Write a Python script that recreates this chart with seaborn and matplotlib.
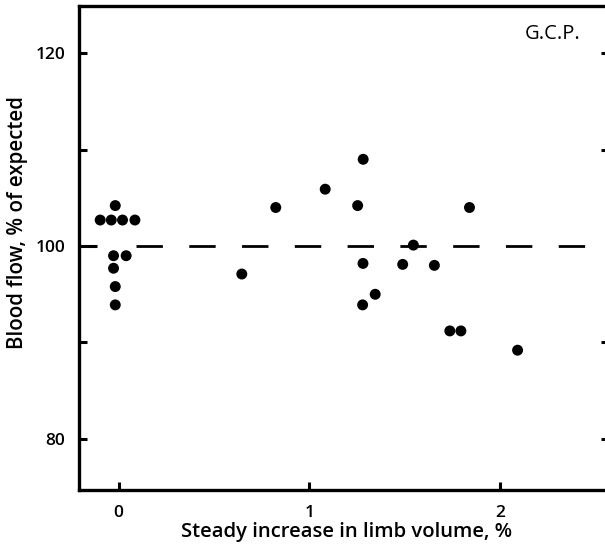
import matplotlib
matplotlib.use("Agg")
import matplotlib.pyplot as plt
import seaborn as sns
import pandas as pd

# Data
volume_increase = [-0.096, -0.038, 0.021, 0.086, -0.017, -0.026, 0.040, -0.026, -0.017, -0.017,
                   0.646, 0.824, 1.083, 1.282, 1.253, 1.839, 1.545, 1.281, 1.489, 1.655,
                   1.345, 1.279, 1.736, 1.794, 2.091]
blood_flow = [102.7, 102.7, 102.7, 102.7, 104.2, 99.0, 99.0, 97.7, 95.8, 93.9,
              97.1, 104.0, 105.9, 109.0, 104.2, 104.0, 100.1, 98.2, 98.1, 98.0,
              95.0, 93.9, 91.2, 91.2, 89.2]
reference_level = 100
y_ticks = [80, 90, 100, 110, 120]
y_ticklabels = ["80", "", "100", "", "120"]
x_ticks = [0, 1, 2]
x_ticklabels = ["0", "1", "2"]
subject = "G.C.P."
xlabel = "Steady increase in limb volume, %"
ylabel = "Blood flow, % of expected"

df = pd.DataFrame({"x": volume_increase, "y": blood_flow})

sns.set_style("white")
plt.rcParams["font.family"] = ["Open Sans", "DejaVu Sans"]
plt.rcParams["text.color"] = "black"
plt.rcParams["axes.labelcolor"] = "black"

W, H = 605, 548
fig = plt.figure(figsize=(W / 100, H / 100), dpi=100)
left, right, bottom, top = 79, 609, 490, 6
ax = fig.add_axes([left / W, 1 - bottom / H, (right - left) / W, (bottom - top) / H])

sns.scatterplot(data=df, x="x", y="y", ax=ax, color="black", s=62,
                edgecolor="none", zorder=3)

ax.plot([0.094, 2.49], [reference_level, reference_level], color="black",
        lw=2.0, dashes=(9.5, 9.5), zorder=2)

ax.set_xlim(-0.207, 2.57)
ax.set_ylim(74.7, 124.9)

ax.set_xticks(x_ticks)
ax.set_xticklabels(x_ticklabels)
ax.set_yticks(y_ticks)
ax.set_yticklabels(y_ticklabels)

ax.tick_params(axis="both", direction="in", length=6, width=2.2, labelsize=12.5,
               color="black", labelcolor="black")
ax.tick_params(axis="x", bottom=True, pad=11)
ax.tick_params(axis="y", left=True, right=True, pad=10)
for lab in ax.get_xticklabels() + ax.get_yticklabels():
    lab.set_fontweight("semibold")
for t in ax.yaxis.get_major_ticks():
    if abs(t.get_loc() - reference_level) < 1e-6:
        t.tick1line.set_markersize(13)
        t.tick2line.set_visible(False)

for s in ["left", "bottom", "top"]:
    ax.spines[s].set_linewidth(2.4)
    ax.spines[s].set_color("black")
ax.spines["right"].set_visible(False)

ax.set_xlabel(xlabel, fontsize=14.6, fontweight="semibold")
ax.set_ylabel(ylabel, fontsize=14.8, fontweight="semibold")
ax.xaxis.set_label_coords((347 - left) / (right - left), -(532 - bottom) / (bottom - top))
ax.yaxis.set_label_coords(-(left - 18) / (right - left), (bottom - 223) / (bottom - top))
ax.xaxis.label.set_verticalalignment("center")
ax.yaxis.label.set_verticalalignment("center")

ax.text((553 - left) / (right - left), (bottom - 34) / (bottom - top), subject,
        transform=ax.transAxes, ha="center", va="center", fontsize=14.5)

fig.savefig("out.png", dpi=100)
